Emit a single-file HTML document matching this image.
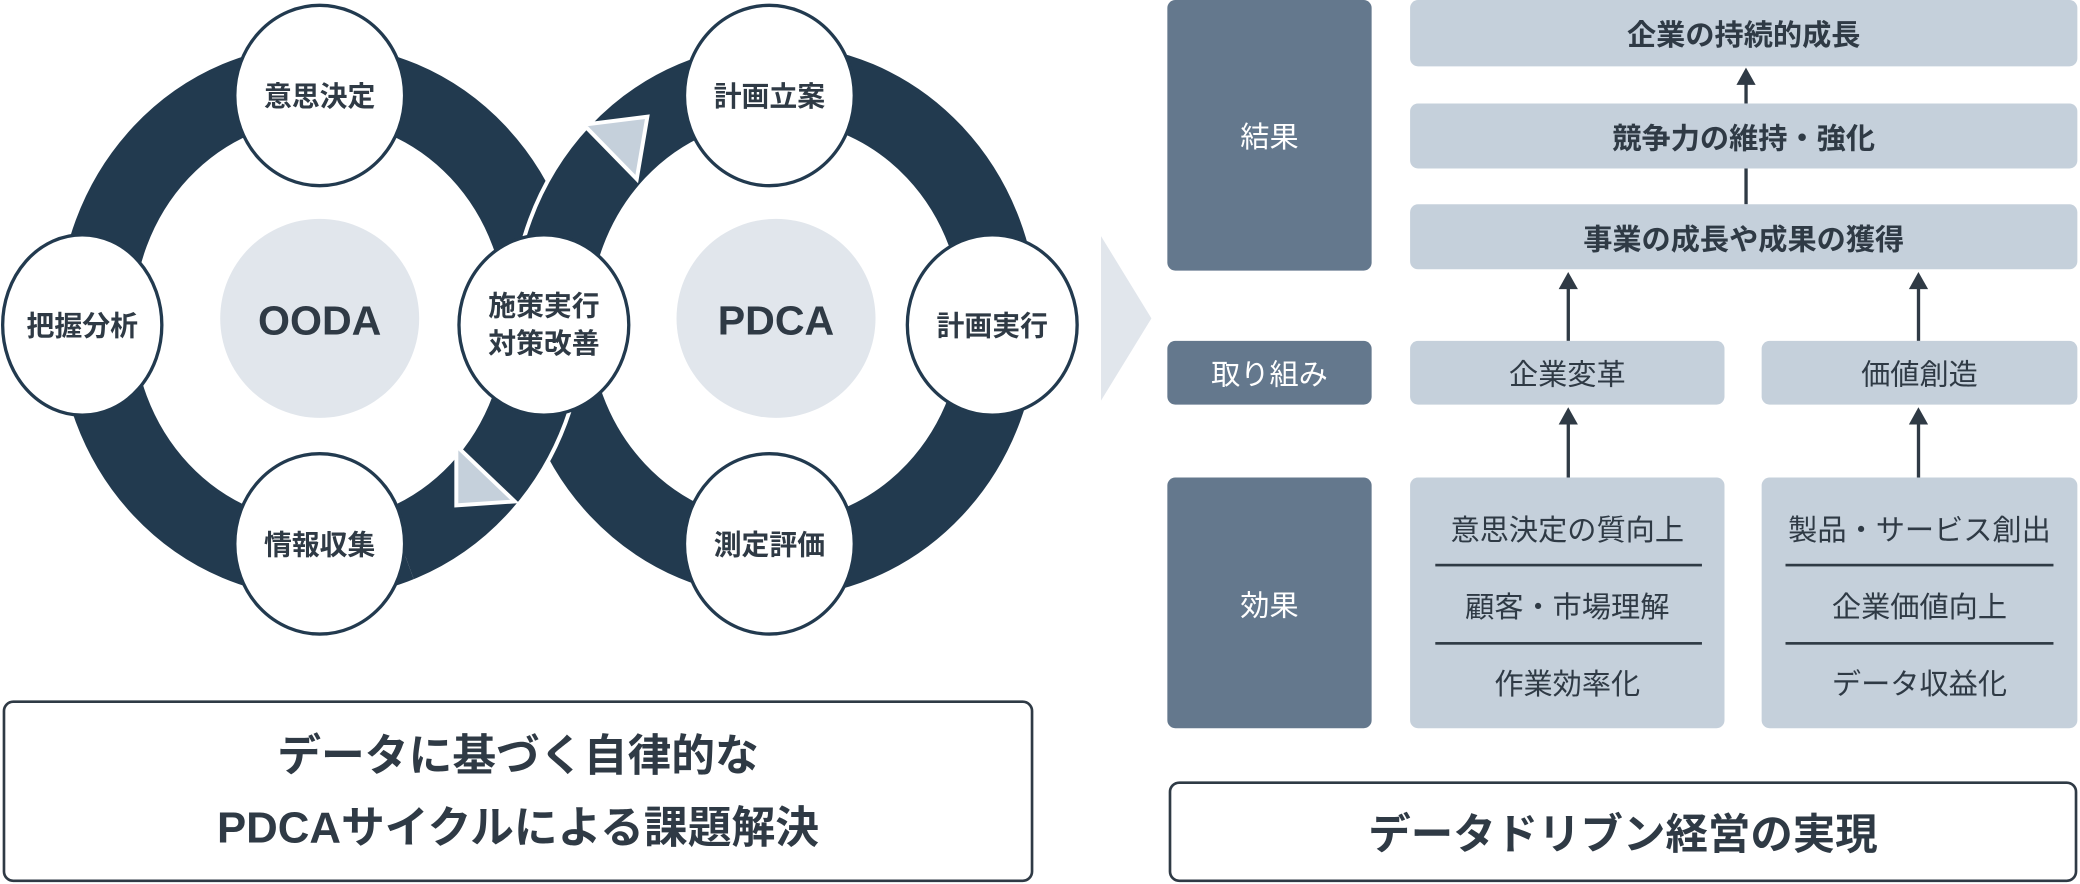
<!DOCTYPE html>
<html><head><meta charset="utf-8"><style>
html,body{margin:0;padding:0;background:#fff;}
body{width:2080px;height:884px;overflow:hidden;}
#w{position:absolute;left:0;top:0;width:1568px;height:666px;transform:scale(1.32653);transform-origin:0 0;font-family:"Liberation Sans","Noto Sans CJK JP",sans-serif;color:#2f3a45;}
.b{position:absolute;display:flex;align-items:center;justify-content:center;text-align:center;box-sizing:border-box;}
.lab{background:#64788d;color:#fff;border-radius:6px;font-size:22px;}
.lt{background:#c5d0db;border-radius:6px;font-size:22px;}
.bold{font-weight:bold;}
.ln{position:absolute;background:#2f3a45;}
</style></head><body><div id="w">
<svg width="1568" height="666" style="position:absolute;left:0;top:0">
<defs><clipPath id="c"><polygon points="241,242 635,311 378,618"/></clipPath></defs>
<ellipse cx="241" cy="242" rx="169" ry="180" fill="none" stroke="#223a4f" stroke-width="57"/>
<ellipse cx="585" cy="242" rx="169" ry="180" fill="none" stroke="#fff" stroke-width="63"/>
<ellipse cx="585" cy="242" rx="169" ry="180" fill="none" stroke="#223a4f" stroke-width="57"/>
<g clip-path="url(#c)">
<ellipse cx="241" cy="242" rx="169" ry="180" fill="none" stroke="#fff" stroke-width="63"/>
<ellipse cx="241" cy="242" rx="169" ry="180" fill="none" stroke="#223a4f" stroke-width="57"/>
</g>
<polygon points="440,94 488,88 480,135" fill="#c5d0db" stroke="#fff" stroke-width="3"/>
<polygon points="344,336 344,381 388,378" fill="#c5d0db" stroke="#fff" stroke-width="3"/>
<circle cx="241" cy="240" r="75" fill="#e1e6ec"/>
<circle cx="585" cy="240" r="75" fill="#e1e6ec"/>
<text x="241" y="252" text-anchor="middle" font-size="31" font-weight="bold" fill="#2f3a45" font-family="Liberation Sans,sans-serif">OODA</text>
<text x="585" y="252" text-anchor="middle" font-size="31" font-weight="bold" fill="#2f3a45" font-family="Liberation Sans,sans-serif">PDCA</text>
<g fill="#fff" stroke="#223a4f" stroke-width="2.5">
<ellipse cx="241" cy="72" rx="64" ry="68"/>
<ellipse cx="62" cy="245" rx="60" ry="68"/>
<ellipse cx="241" cy="410" rx="64" ry="68"/>
<ellipse cx="410" cy="245" rx="64" ry="68"/>
<ellipse cx="580" cy="72" rx="64" ry="68"/>
<ellipse cx="748" cy="245" rx="64" ry="68"/>
<ellipse cx="580" cy="410" rx="64" ry="68"/>
</g>
<g font-size="21" font-weight="bold" fill="#2f3a45" text-anchor="middle" font-family="Liberation Sans,Noto Sans CJK JP,sans-serif">
<text x="241" y="80">意思決定</text>
<text x="62" y="253">把握分析</text>
<text x="241" y="418">情報収集</text>
<text x="410" y="238">施策実行</text>
<text x="410" y="266">対策改善</text>
<text x="580" y="80">計画立案</text>
<text x="748" y="253">計画実行</text>
<text x="580" y="418">測定評価</text>
</g>
<polygon points="830,178 868,240 830,302" fill="#e1e6ec"/>
<g fill="#2f3a45">
<rect x="1315" y="62" width="2.5" height="16"/><polygon points="1316.2,51 1309,64 1323.5,64"/>
<rect x="1315" y="127" width="2.5" height="27"/>
<rect x="1181" y="216" width="2.5" height="41"/><polygon points="1182.2,205 1175,218 1189.5,218"/>
<rect x="1445" y="216" width="2.5" height="41"/><polygon points="1446.2,205 1439,218 1453.5,218"/>
<rect x="1181" y="318" width="2.5" height="42"/><polygon points="1182.2,307 1175,320 1189.5,320"/>
<rect x="1445" y="318" width="2.5" height="42"/><polygon points="1446.2,307 1439,320 1453.5,320"/>
</g>
</svg>
<div class="b bold" style="left:2px;top:528px;width:777px;height:137px;border:2px solid #2f3a45;border-radius:8px;font-size:33px;line-height:54px;">データに基づく自律的な<br>PDCAサイクルによる課題解決</div>
<div class="b lab" style="left:880px;top:0;width:154px;height:204px">結果</div>
<div class="b lab" style="left:880px;top:257px;width:154px;height:48px">取り組み</div>
<div class="b lab" style="left:880px;top:360px;width:154px;height:189px">効果</div>
<div class="b lt bold" style="left:1063px;top:0;width:503px;height:50px">企業の持続的成長</div>
<div class="b lt bold" style="left:1063px;top:78px;width:503px;height:49px">競争力の維持・強化</div>
<div class="b lt bold" style="left:1063px;top:154px;width:503px;height:49px">事業の成長や成果の獲得</div>
<div class="b lt" style="left:1063px;top:257px;width:237px;height:48px">企業変革</div>
<div class="b lt" style="left:1328px;top:257px;width:238px;height:48px">価値創造</div>
<div class="b lt" style="left:1063px;top:360px;width:237px;height:189px"></div>
<div class="b lt" style="left:1328px;top:360px;width:238px;height:189px"></div>
<div class="b" style="left:1063px;top:380px;width:237px;height:36px;font-size:22px">意思決定の質向上</div>
<div class="b" style="left:1063px;top:438px;width:237px;height:36px;font-size:22px">顧客・市場理解</div>
<div class="b" style="left:1063px;top:496px;width:237px;height:36px;font-size:22px">作業効率化</div>
<div class="b" style="left:1328px;top:380px;width:238px;height:36px;font-size:22px;white-space:nowrap">製品・サービス創出</div>
<div class="b" style="left:1328px;top:438px;width:238px;height:36px;font-size:22px">企業価値向上</div>
<div class="b" style="left:1328px;top:496px;width:238px;height:36px;font-size:22px">データ収益化</div>
<div class="ln" style="left:1082px;top:425px;width:201px;height:1.5px"></div>
<div class="ln" style="left:1082px;top:484px;width:201px;height:1.5px"></div>
<div class="ln" style="left:1346px;top:425px;width:202px;height:1.5px"></div>
<div class="ln" style="left:1346px;top:484px;width:202px;height:1.5px"></div>
<div class="b bold" style="left:881px;top:589px;width:685px;height:76px;border:2px solid #2f3a45;border-radius:8px;font-size:32px">データドリブン経営の実現</div>
</div></body></html>
